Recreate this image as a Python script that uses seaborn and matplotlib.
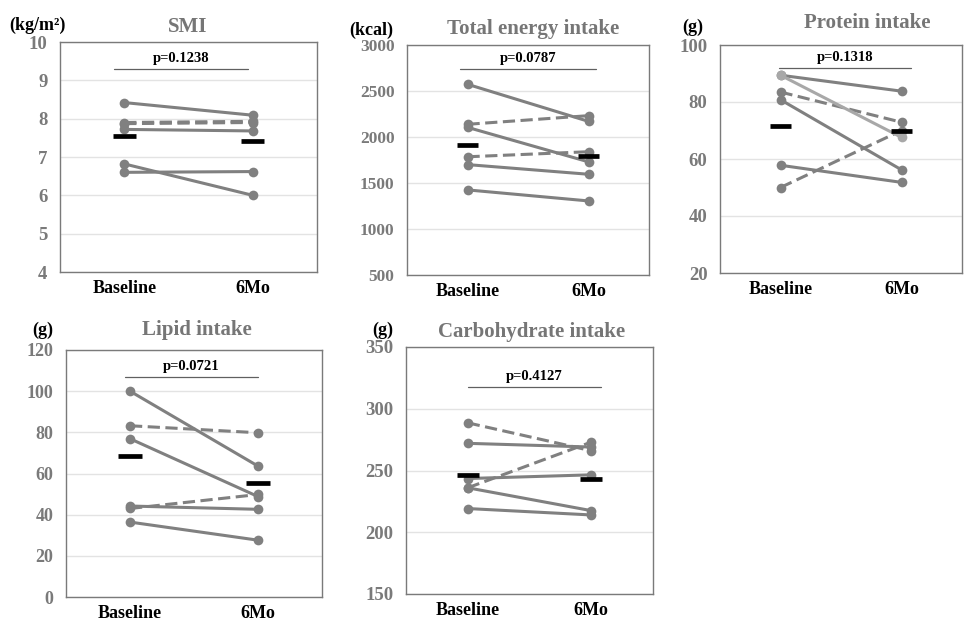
import numpy as np
import pandas as pd
import matplotlib
matplotlib.use('Agg')
import matplotlib.pyplot as plt
import seaborn as sns

sns.set_theme(style="white")
plt.rcParams['font.family'] = ['Liberation Serif', 'DejaVu Serif']
plt.rcParams['font.weight'] = 'bold'

# ---- data ----
categories = ['Baseline', '6Mo']

smi_base = [8.42, 7.90, 7.87, 7.72, 6.82, 6.60]
smi_6mo = [8.09, 7.93, 7.90, 7.68, 6.00, 6.62]
smi_group = ['solid', 'dashed', 'dashed', 'solid', 'solid', 'solid']
smi_mean = [7.55, 7.42]

energy_base = [2573, 2138, 2105, 1785, 1700, 1425]
energy_6mo = [2170, 2232, 1730, 1840, 1595, 1305]
energy_group = ['solid', 'dashed', 'solid', 'dashed', 'solid', 'solid']
energy_mean = [1917, 1790]

protein_base = [89.4, 89.4, 83.5, 80.8, 57.8, 50.0]
protein_6mo = [83.8, 67.6, 72.9, 56.2, 51.8, 70.0]
protein_group = ['solid', 'solid', 'dashed', 'solid', 'solid', 'dashed']
protein_mean = [71.5, 70.0]

lipid_base = [100.0, 83.2, 76.9, 44.2, 43.0, 36.4]
lipid_6mo = [63.6, 79.8, 48.8, 42.6, 49.8, 27.6]
lipid_group = ['solid', 'dashed', 'solid', 'solid', 'dashed', 'solid']
lipid_mean = [68.3, 55.2]

carb_base = [288.6, 272.0, 236.0, 243.5, 236.0, 219.2]
carb_6mo = [266.0, 269.0, 273.0, 246.5, 217.5, 214.0]
carb_group = ['dashed', 'solid', 'dashed', 'solid', 'solid', 'solid']
carb_mean = [246.5, 243.3]

p_values = ['p=0.1238', 'p=0.0787', 'p=0.1318', 'p=0.0721', 'p=0.4127']
titles = ['SMI', 'Total energy intake', 'Protein intake', 'Lipid intake', 'Carbohydrate intake']
units = ['(kg/m²)', '(kcal)', '(g)', '(g)', '(g)']

W, H = 965, 623
GRAY = '#808080'
LIGHT = '#a8a8a8'

panels = [
    dict(base=smi_base, after=smi_6mo, group=smi_group, mean=smi_mean,
         ylim=(4, 10), step=1, rect=(60, 42, 317, 272), title=(188, 27), unit=(37, 25),
         pbar=(0.21, 0.73, 0.883), light=None, fs=13.5),
    dict(base=energy_base, after=energy_6mo, group=energy_group, mean=energy_mean,
         ylim=(500, 3000), step=500, rect=(407, 45, 649, 275), title=(533, 29), unit=(371, 30),
         pbar=(0.22, 0.78, 0.896), light=None, fs=12.5),
    dict(base=protein_base, after=protein_6mo, group=protein_group, mean=protein_mean,
         ylim=(20, 100), step=20, rect=(720, 45, 962, 273), title=(867, 23), unit=(693, 27),
         pbar=(0.245, 0.79, 0.90), light=1, fs=13.5),
    dict(base=lipid_base, after=lipid_6mo, group=lipid_group, mean=lipid_mean,
         ylim=(0, 120), step=20, rect=(66, 350, 322, 597), title=(197, 330), unit=(43, 330),
         pbar=(0.23, 0.75, 0.89), light=None, fs=13),
    dict(base=carb_base, after=carb_6mo, group=carb_group, mean=carb_mean,
         ylim=(150, 350), step=50, rect=(406, 347, 653, 594), title=(532, 332), unit=(383, 330),
         pbar=(0.25, 0.79, 0.84), light=None, fs=13.5),
]

fig = plt.figure(figsize=(W / 100, H / 100), dpi=100)

for i, p in enumerate(panels):
    x0, y0, x1, y1 = p['rect']
    ax = fig.add_axes([x0 / W, 1 - y1 / H, (x1 - x0) / W, (y1 - y0) / H])

    n = len(p['base'])
    df = pd.DataFrame({
        'subject': list(range(n)) * 2,
        'x': [0] * n + [1] * n,
        'value': list(p['base']) + list(p['after']),
        'group': list(p['group']) * 2,
        'shade': ['light' if k == p['light'] else 'dark' for k in range(n)] * 2,
    })
    sns.lineplot(data=df, x='x', y='value', units='subject', estimator=None,
                 hue='shade', palette={'dark': GRAY, 'light': LIGHT},
                 style='group', dashes={'solid': '', 'dashed': (4, 1.8)},
                 markers={'solid': 'o', 'dashed': 'o'}, markersize=7,
                 markeredgewidth=0, linewidth=2.2, legend=False, ax=ax)

    # group means
    ax.hlines(p['mean'], [k - 0.09 for k in range(2)], [k + 0.09 for k in range(2)],
              colors='black', linewidth=3.4, zorder=5)

    lo, hi = p['ylim']
    ax.set_ylim(lo, hi)
    ax.set_xlim(-0.5, 1.5)
    ax.set_yticks(np.arange(lo, hi + p['step'] / 2, p['step']))
    ax.set_xticks([0, 1])
    ax.set_xticklabels(categories, fontsize=13, fontweight='bold', color='black')
    ax.tick_params(axis='y', labelsize=p['fs'], labelcolor='#7a7a7a', pad=9, length=0)
    ax.tick_params(axis='x', pad=6, length=0)
    for lab in ax.get_yticklabels():
        lab.set_fontweight('bold')
    ax.set_xlabel('')
    ax.set_ylabel('')
    ax.yaxis.grid(True, color='#e3e3e3', linewidth=1)
    ax.set_axisbelow(True)
    for s in ax.spines.values():
        s.set_color('#7a7a7a')
        s.set_linewidth(1)

    # p-value bracket
    a, b, yf = p['pbar']
    ax.plot([a, b], [yf, yf], transform=ax.transAxes, color='#606060', lw=0.9)
    ax.text((a + b) / 2, yf + 0.015, p_values[i], transform=ax.transAxes,
            ha='center', va='bottom', fontsize=10.5, fontweight='bold', color='black')

    tx, ty = p['title']
    fig.text(tx / W, 1 - ty / H, titles[i], ha='center', va='center',
             fontsize=15, fontweight='bold', color='#767676')
    ux, uy = p['unit']
    fig.text(ux / W, 1 - uy / H, units[i], ha='center', va='center',
             fontsize=13, fontweight='bold', color='black')

fig.savefig('out.png', dpi=100)
